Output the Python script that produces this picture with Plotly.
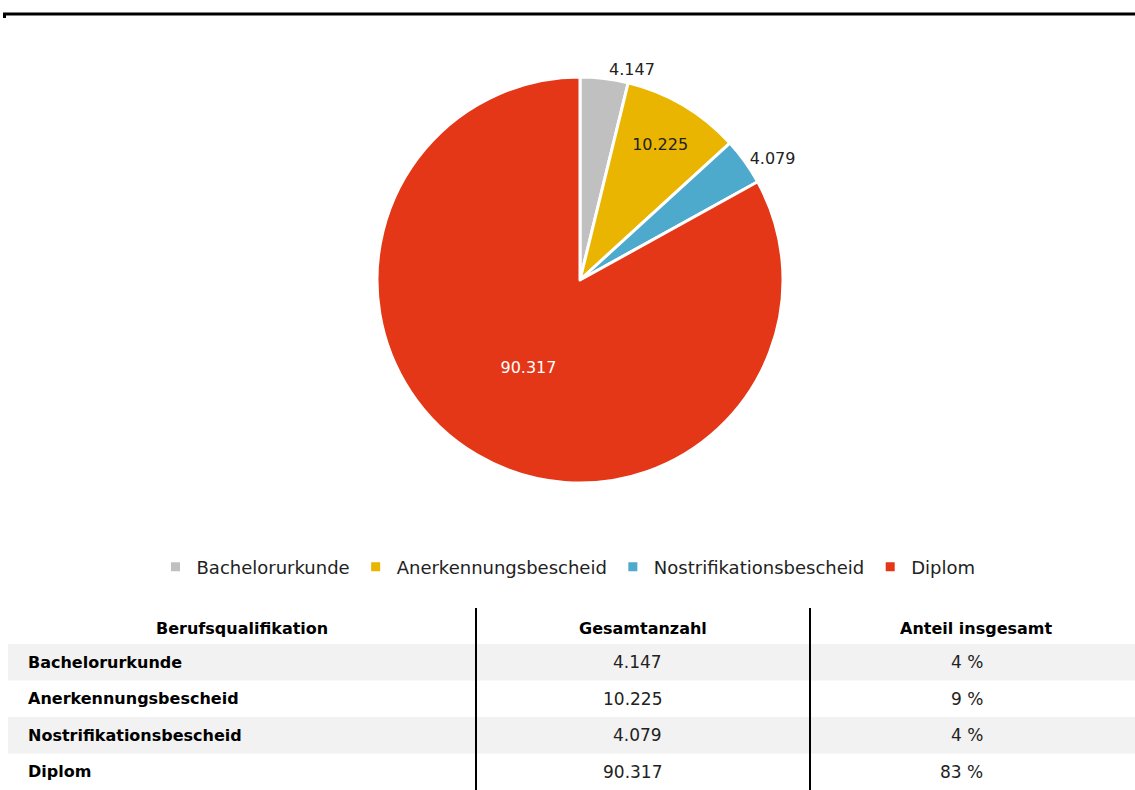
import plotly.graph_objects as go

categories = ["Bachelorurkunde", "Anerkennungsbescheid", "Nostrifikationsbescheid", "Diplom"]
values = [4147, 10225, 4079, 90317]
value_labels = ["4.147", "10.225", "4.079", "90.317"]
shares = ["4 %", "9 %", "4 %", "83 %"]
headers = ["Berufsqualifikation", "Gesamtanzahl", "Anteil insgesamt"]
colors = ["#c0c0c0", "#e9b500", "#4eaacc", "#e43718"]

W, H = 1135, 790
FONT = "DejaVu Sans"

def px(x):
    return x / W

def py(y):
    return 1 - y / H

cx, cy, r = 580, 280, 203

fig = go.Figure(go.Pie(
    labels=categories,
    values=values,
    sort=False,
    direction="clockwise",
    rotation=0,
    marker=dict(colors=colors, line=dict(color="white", width=3)),
    texttemplate="%{value:,.0f}",
    textposition=["outside", "inside", "outside", "inside"],
    textfont=dict(family=FONT, size=16, color=["#222222", "#222222", "#222222", "#ffffff"]),
    insidetextorientation="horizontal",
    hoverinfo="label+value",
    domain=dict(x=[px(cx - r), px(cx + r)], y=[py(cy + r), py(cy - r)]),
))

shapes = []
annotations = []

# top rule
shapes.append(dict(type="line", xref="paper", yref="paper", x0=px(3), x1=px(1135), y0=py(14), y1=py(14),
                   line=dict(color="black", width=3)))
shapes.append(dict(type="rect", xref="paper", yref="paper", x0=px(3), x1=px(6), y0=py(18), y1=py(14),
                   fillcolor="black", line=dict(width=0)))

# table geometry
header_top = 608
row_h = 36.5
header_bottom = 644
row_tops = [header_bottom + i * row_h for i in range(len(categories))]

for i, top in enumerate(row_tops):
    if i % 2 == 0:
        shapes.append(dict(type="rect", xref="paper", yref="paper", layer="below",
                           x0=px(8), x1=px(1135), y0=py(top + row_h), y1=py(top),
                           fillcolor="#f2f2f2", line=dict(width=0)))

for xl in [476, 810]:
    shapes.append(dict(type="line", xref="paper", yref="paper", x0=px(xl), x1=px(xl),
                       y0=py(header_top), y1=py(790), line=dict(color="black", width=2)))

header_x = [242, 643, 976]
for hx, htxt in zip(header_x, headers):
    annotations.append(dict(xref="paper", yref="paper", x=px(hx), y=py(628), text="<b>%s</b>" % htxt,
                            showarrow=False, xanchor="center", yanchor="middle",
                            font=dict(family=FONT, size=16, color="black")))

for i, top in enumerate(row_tops):
    ymid = py(top + row_h / 2)
    annotations.append(dict(xref="paper", yref="paper", x=px(26), y=ymid, text="<b>%s</b>" % categories[i],
                            showarrow=False, xanchor="left", yanchor="middle",
                            font=dict(family=FONT, size=16, color="black")))
    annotations.append(dict(xref="paper", yref="paper", x=px(664), y=ymid, text=value_labels[i],
                            showarrow=False, xanchor="right", yanchor="middle",
                            font=dict(family=FONT, size=17, color="#222222")))
    annotations.append(dict(xref="paper", yref="paper", x=px(985), y=ymid, text=shares[i],
                            showarrow=False, xanchor="right", yanchor="middle",
                            font=dict(family=FONT, size=17, color="#222222")))

fig.update_layout(
    width=W, height=H,
    margin=dict(l=0, r=0, t=0, b=0),
    paper_bgcolor="white", plot_bgcolor="white",
    separators=",.",
    showlegend=True,
    legend=dict(orientation="h", x=0.5, xanchor="center", y=py(567), yanchor="middle",
                itemwidth=32,
                font=dict(family=FONT, size=18, color="#222222"), itemclick=False),
    shapes=shapes,
    annotations=annotations,
)

fig.write_html("out.html", config={"displayModeBar": False},
               post_script="document.body.style.margin='0';")
